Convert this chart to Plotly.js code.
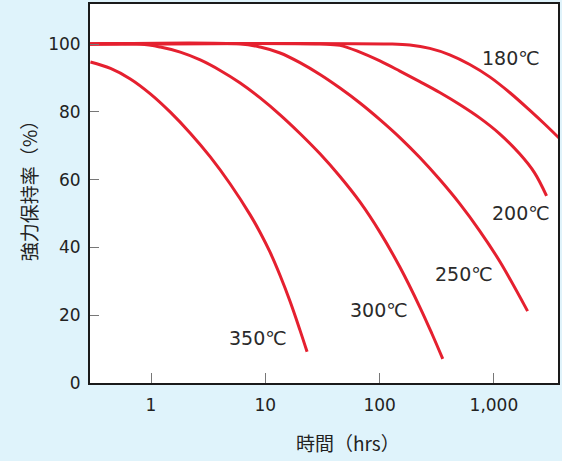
<!DOCTYPE html>
<html><head><meta charset="utf-8">
<script src="https://cdn.plot.ly/plotly-3.0.1.min.js"></script>
<style>html,body{margin:0;padding:0;background:#dff3fb;}#c{width:562px;height:461px;}</style>
</head><body><div id="c"></div>
<script>
// Time (hrs) and strength retention (%) per temperature
const t180 = [0.29, 123, 184, 275, 411, 615, 919, 1374, 2054, 2778, 3758];
const r180 = [100, 100, 99.7, 98.7, 96.8, 93.95, 90.3, 85.7, 80.5, 76.4, 72.1];
const t200 = [0.29, 30.1, 45.0, 67.3, 100.6, 150.4, 224.8, 336, 502, 751, 1124, 1680, 2270, 2890];
const r200 = [100, 100, 99.6, 97.6, 95.0, 92.0, 88.9, 85.7, 82.15, 78.2, 73.5, 67.6, 62.0, 55.2];
const t250 = [0.29, 6.03, 9.01, 13.47, 20.1, 30.1, 45.0, 67.3, 100.6, 150.4, 224.8, 336, 502, 751, 1124, 1972];
const r250 = [100, 100, 99.1, 97.35, 94.5, 91.0, 87.0, 82.6, 77.7, 72.4, 66.5, 60.0, 52.9, 44.9, 35.9, 21.2];
const t300 = [0.29, 0.807, 1.206, 1.803, 2.695, 4.03, 6.03, 9.01, 13.47, 20.1, 30.1, 45.0, 67.3, 100.6, 150.4, 224.8, 286.4, 357];
const r300 = [100, 100, 99.1, 97.6, 95.3, 92.2, 88.5, 84.1, 79.1, 73.6, 67.6, 60.9, 53.4, 44.5, 34.2, 22.4, 14.6, 7.1];
const t350 = [0.295, 0.442, 0.659, 0.986, 1.475, 2.205, 3.30, 4.93, 7.37, 9.01, 11.03, 13.47, 16.45, 20.1, 23.2];
const r350 = [94.7, 92.8, 89.7, 85.3, 79.9, 73.7, 66.7, 58.7, 49.6, 44.4, 38.5, 31.7, 24.1, 15.6, 9.2];

const labels = ['180℃', '200℃', '250℃', '300℃', '350℃'];
const labelX = [1403, 1722, 547, 98.6, 8.55];
const labelY = [95.9, 50.1, 32.3, 21.5, 13.4];

const xTickVals = [1, 10, 100, 1000];
const xTickText = ['1', '10', '100', '1,000'];
const yTickVals = [0, 20, 40, 60, 80, 100];

const red = '#e5202f';
const series = [[t180, r180], [t200, r200], [t250, r250], [t300, r300], [t350, r350]];
const traces = series.map(s => ({
  x: s[0], y: s[1], type: 'scatter', mode: 'lines',
  line: {color: red, width: 3, shape: 'spline', smoothing: 1},
  hoverinfo: 'skip', showlegend: false
}));

const cjk = '"Noto Sans CJK JP", "Noto Sans", sans-serif';
const num = '"DejaVu Sans", "Noto Sans", sans-serif';
const annotations = labels.map((t, i) => ({
  x: Math.log10(labelX[i]), y: labelY[i], xref: 'x', yref: 'y',
  xanchor: 'center', yanchor: 'middle',
  text: t, showarrow: false, font: {family: num, size: 19, color: '#2a2a2a'}
}));
annotations.push({
  xref: 'paper', yref: 'paper', x: -0.1325, y: 0.522, textangle: -90,
  xanchor: 'center', yanchor: 'middle',
  text: '強力保持率（%）', showarrow: false, font: {family: cjk, size: 19, color: '#222'}
});
annotations.push({
  xref: 'paper', yref: 'paper', x: 0.551, y: -0.1557,
  xanchor: 'center', yanchor: 'middle',
  text: '時間（hrs）', showarrow: false, font: {family: cjk, size: 19, color: '#222'}
});

const layout = {
  width: 562, height: 461,
  margin: {l: 90, r: 4, t: 4, b: 78},
  paper_bgcolor: '#dff3fb', plot_bgcolor: '#ffffff',
  font: {family: num, color: '#222'},
  xaxis: {
    type: 'log', range: [-0.534, 3.561],
    tickvals: xTickVals, ticktext: xTickText,
    ticks: 'inside', ticklen: 10, tickcolor: '#777', tickwidth: 1,
    showgrid: false, zeroline: false,
    showline: true, mirror: true, linecolor: '#1a1a1a', linewidth: 2,
    tickfont: {size: 17, color: '#222'}, ticklabelstandoff: 6
  },
  yaxis: {
    range: [0, 111.8],
    tickvals: yTickVals,
    ticks: 'inside', ticklen: 9, tickcolor: '#777', tickwidth: 1,
    showgrid: false, zeroline: false,
    showline: true, mirror: true, linecolor: '#1a1a1a', linewidth: 2,
    tickfont: {size: 17, color: '#222'}, ticklabelstandoff: 4
  },
  annotations: annotations
};
Plotly.newPlot('c', traces, layout, {displayModeBar: false, staticPlot: true});
</script></body></html>
